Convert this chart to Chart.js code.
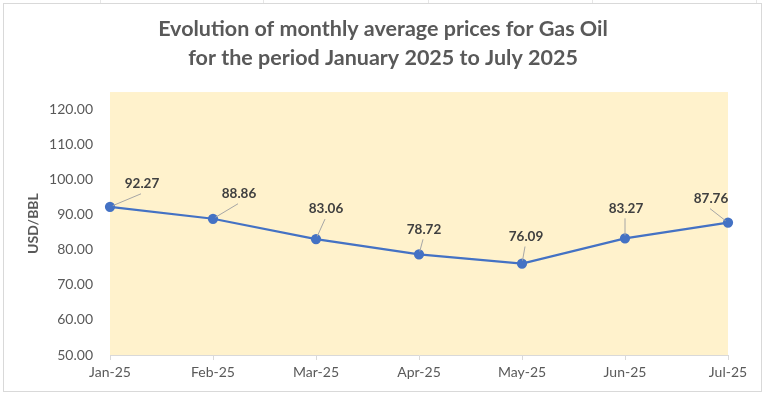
<!DOCTYPE html>
<html>
<head>
<meta charset="utf-8">
<script src="https://cdn.jsdelivr.net/npm/chart.js@4"></script>
<style>
html,body{margin:0;padding:0;background:#fff;}
#wrap{position:relative;width:766px;height:396px;}
canvas{display:block;}
</style>
</head>
<body>
<div id="wrap"><canvas id="c" width="766" height="396"></canvas></div>
<script>
const categories = ['Jan-25','Feb-25','Mar-25','Apr-25','May-25','Jun-25','Jul-25'];
const prices = [92.27, 88.86, 83.06, 78.72, 76.09, 83.27, 87.76];
const yTickMin = 50;
const yTickMax = 120;
const yTickStep = 10;
const titleLines = ['Evolution of monthly average prices for Gas Oil', 'for the period January 2025 to July 2025'];
const yAxisTitle = 'USD/BBL';

// label placement (style): offsets in px from each point
const labelOffsets = [[32,-23],[26,-25],[10,-30],[5,-25],[4,-27],[1,-30],[-17,-24]];

const frame = {
  id: 'frame',
  beforeDraw(chart) {
    const {ctx, chartArea: a} = chart;
    ctx.save();
    ctx.fillStyle = '#fff';
    ctx.fillRect(0,0,chart.width,chart.height);
    ctx.strokeStyle = '#e6e6e6';
    ctx.lineWidth = 1;
    [100,263,428,592,756].forEach(x=>{ctx.beginPath();ctx.moveTo(x+0.5,0);ctx.lineTo(x+0.5,3);ctx.stroke();});
    ctx.strokeStyle = '#d9d9d9';
    ctx.strokeRect(3.5,3.5,758,388);
    ctx.fillStyle = '#FFF2CC';
    ctx.fillRect(a.left, a.top, a.right - a.left, a.bottom - a.top);
    ctx.restore();
  }
};

const dataLabels = {
  id: 'dataLabels',
  afterDatasetsDraw(chart) {
    const {ctx} = chart;
    const meta = chart.getDatasetMeta(0);
    ctx.save();
    ctx.font = 'bold 13.5px Lato';
    ctx.textAlign = 'center';
    ctx.textBaseline = 'middle';
    meta.data.forEach((pt, i) => {
      const [dx, dy] = labelOffsets[i];
      const lx = pt.x + dx, ly = pt.y + dy;
      const sx = lx - 1, sy = ly + 10;
      const vx = pt.x - sx, vy = pt.y - sy;
      const d = Math.hypot(vx, vy);
      if (d > 6) {
        const ex = pt.x - vx / d * 3, ey = pt.y - vy / d * 3;
        ctx.strokeStyle = '#a6a6a6';
        ctx.lineWidth = 1;
        ctx.beginPath();
        ctx.moveTo(sx, sy);
        ctx.lineTo(ex, ey);
        ctx.stroke();
      }
      ctx.fillStyle = '#404040';
      ctx.fillText(prices[i].toFixed(2), lx, ly);
    });
    ctx.restore();
  }
};

new Chart(document.getElementById('c'), {
  type: 'line',
  data: {
    labels: categories,
    datasets: [{
      data: prices,
      yAxisID: 'y',
      borderColor: '#4472C4',
      backgroundColor: '#4472C4',
      borderWidth: 2.25,
      pointRadius: 4,
      pointHoverRadius: 4,
      pointBackgroundColor: '#4472C4',
      pointBorderColor: '#4472C4',
      tension: 0
    }]
  },
  options: {
    responsive: false,
    animation: false,
    events: [],
    layout: {padding: {left: 0, right: 0, top: 0, bottom: 0}},
    plugins: {
      legend: {display: false},
      tooltip: {enabled: false},
      title: {
        display: true,
        text: titleLines,
        color: '#595959',
        font: {family: 'Lato', size: 21.5, weight: 'bold', lineHeight: 1.35},
        padding: {top: 15, bottom: 19}
      }
    },
    scales: {
      x: {
        type: 'category',
        offset: false,
        grid: {display: true, drawOnChartArea: false, drawTicks: true, tickLength: 5, color: '#d9d9d9'},
        border: {display: true, color: '#d9d9d9'},
        ticks: {color: '#595959', font: {family: 'Lato', size: 14}, padding: 4, maxRotation: 0, autoSkip: false},
        afterFit(s) { s.height = 41; }
      },
      y: {
        position: 'left',
        min: yTickMin,
        max: 125,
        grid: {display: false, drawTicks: false},
        border: {display: false},
        ticks: {
          stepSize: yTickStep,
          color: '#595959',
          font: {family: 'Lato', size: 14},
          padding: 17,
          callback: v => v.toFixed(2)
        },
        afterBuildTicks(s) { s.ticks = s.ticks.filter(t => t.value >= yTickMin && t.value <= yTickMax); },
        title: {
          display: true,
          text: yAxisTitle,
          color: '#595959',
          font: {family: 'Lato', size: 14, weight: 'bold'},
          padding: {top: 25, bottom: 0}
        },
        afterFit(s) { s.width = 110; }
      },
      spacer: {
        type: 'linear',
        position: 'right',
        min: 0,
        max: 1,
        grid: {display: false, drawTicks: false},
        border: {display: false},
        ticks: {display: false},
        afterFit(s) { s.width = 38; }
      }
    }
  },
  plugins: [frame, dataLabels]
});
</script>
</body>
</html>
